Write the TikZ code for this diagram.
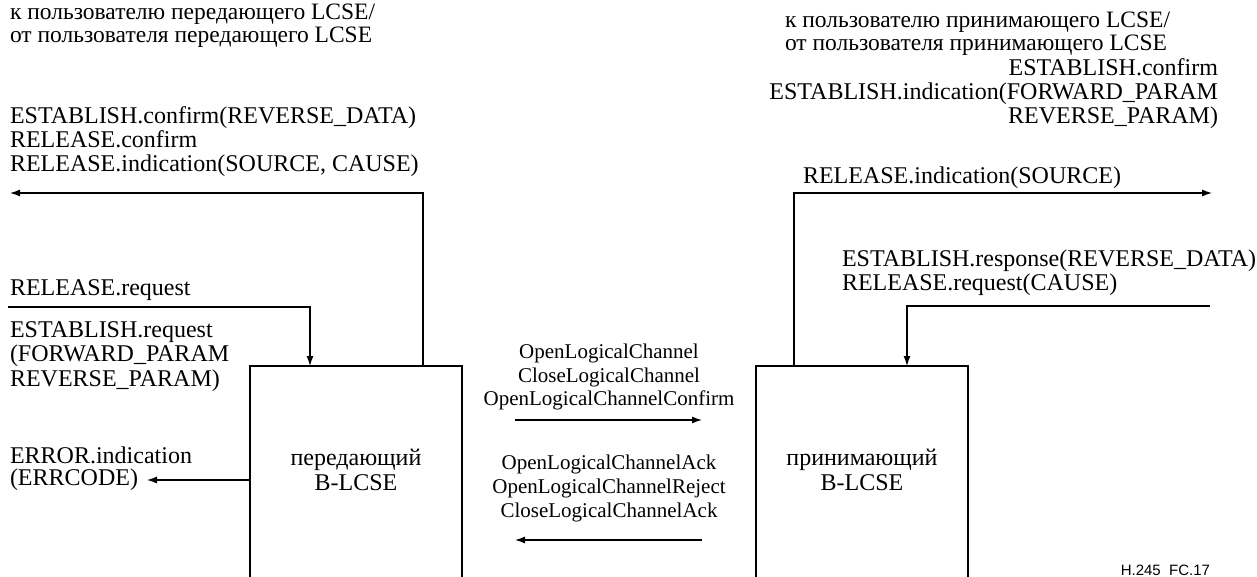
\documentclass[tikz,border=0pt]{standalone}
\usepackage{fontspec}
\setmainfont{Liberation Serif}
\newfontfamily\labfont{Liberation Sans}
\usetikzlibrary{arrows.meta}
\begin{document}
\begin{tikzpicture}[x=1bp,y=-1bp,
  every node/.style={inner sep=0pt,outer sep=0pt},
  txt/.style={font=\fontsize{24bp}{24bp}\selectfont},
  hdr/.style={font=\fontsize{23.5bp}{20bp}\selectfont},
  mid/.style={font=\fontsize{21bp}{24bp}\selectfont},
  boxtxt/.style={font=\fontsize{24bp}{27bp}\selectfont},
  conn/.style={line width=1.2bp},
  arr/.style={conn,-{Latex[length=10bp,width=7bp]}},
  blk/.style={minimum width=212bp, minimum height=211bp, anchor=north west},
]
\useasboundingbox (0,0) rectangle (1257,577);

% left headers
\node[hdr,anchor=base west] (lh1) at (10,20) {к пользователю передающего LCSE/};
\node[hdr,anchor=base west] (lh2) at (10,43) {от пользователя передающего LCSE};

\node[txt,anchor=base west] (lo1) at (10,124) {ESTABLISH.confirm(REVERSE\_DATA)};
\node[txt,anchor=base west] (lo2) at (10,148) {RELEASE.confirm};
\node[txt,anchor=base west] (lo3) at (10,172) {RELEASE.indication(SOURCE, CAUSE)};

\node[txt,anchor=base west] (lr1) at (10,296) {RELEASE.request};
\node[txt,anchor=base west] (le1) at (10,338) {ESTABLISH.request};
\node[txt,anchor=base west] (le2) at (10,362) {(FORWARD\_PARAM};
\node[txt,anchor=base west] (le3) at (10,386) {REVERSE\_PARAM)};

\node[txt,anchor=base west] (ee1) at (10,463) {ERROR.indication};
\node[txt,anchor=base west] (ee2) at (10,485) {(ERRCODE)};

% boxes
\node[blk] (lbox) at (250,366) {};
\node[blk] (rbox) at (756,366) {};
\draw[conn] (lbox.south west) -- (lbox.north west) -- (lbox.north east) -- (lbox.south east);
\draw[conn] (rbox.south west) -- (rbox.north west) -- (rbox.north east) -- (rbox.south east);
\node[boxtxt,anchor=base] (lt1) at (356,465) {передающий};
\node[boxtxt,anchor=base] (lt2) at (356,490) {B-LCSE};
\node[boxtxt,anchor=base] (rt1) at (862,465) {принимающий};
\node[boxtxt,anchor=base] (rt2) at (862,490) {B-LCSE};

% middle
\node[mid,anchor=base] (m1) at (609,359) {OpenLogicalChannel};
\node[mid,anchor=base] (m2) at (609,382) {CloseLogicalChannel};
\node[mid,anchor=base] (m3) at (609,405) {OpenLogicalChannelConfirm};
\node[mid,anchor=base] (m4) at (609,469) {OpenLogicalChannelAck};
\node[mid,anchor=base] (m5) at (609,493) {OpenLogicalChannelReject};
\node[mid,anchor=base] (m6) at (609,517) {CloseLogicalChannelAck};
\coordinate (fa) at (515,420);
\coordinate (fb) at (702,420);
\coordinate (ba) at (702,540);
\coordinate (bb) at (515,540);
\draw[arr] (fa) -- (fb);
\draw[arr] (ba) -- (bb);

% right headers
\node[hdr,anchor=base west] (rh1) at (785,28) {к пользователю принимающего LCSE/};
\node[hdr,anchor=base west] (rh2) at (785,51) {от пользователя принимающего LCSE};
\node[txt,anchor=base east] (ri1) at (1218,76) {ESTABLISH.confirm};
\node[txt,anchor=base east] (ri2) at (1218,100) {ESTABLISH.indication(FORWARD\_PARAM};
\node[txt,anchor=base east] (ri3) at (1218,124) {REVERSE\_PARAM)};
\node[txt,anchor=base west] (rs1) at (803,184) {RELEASE.indication(SOURCE)};
\node[txt,anchor=base west] (rq1) at (842,267) {ESTABLISH.response(REVERSE\_DATA)};
\node[txt,anchor=base west] (rq2) at (842,291) {RELEASE.request(CAUSE)};

\node[font=\labfont\fontsize{15bp}{15bp}\selectfont,anchor=base east] (fig) at (1210,575) {H.245\ \ FC.17};

% connectors
\coordinate (lc1) at (10,193);
\coordinate (lc2) at (8,307);
\coordinate (errtip) at (147,480);
\coordinate (rc1) at (1212,193);
\coordinate (rc2) at (1210,306);
\draw[arr] ([xshift=173bp]lbox.north west) |- (lc1);
\draw[arr] (lc2) -| ([xshift=60bp]lbox.north west);
\draw[arr] (lbox.west |- errtip) -- (errtip);
\draw[arr] ([xshift=38bp]rbox.north west) |- (rc1);
\draw[arr] (rc2) -| ([xshift=151bp]rbox.north west);
\end{tikzpicture}
\end{document}
